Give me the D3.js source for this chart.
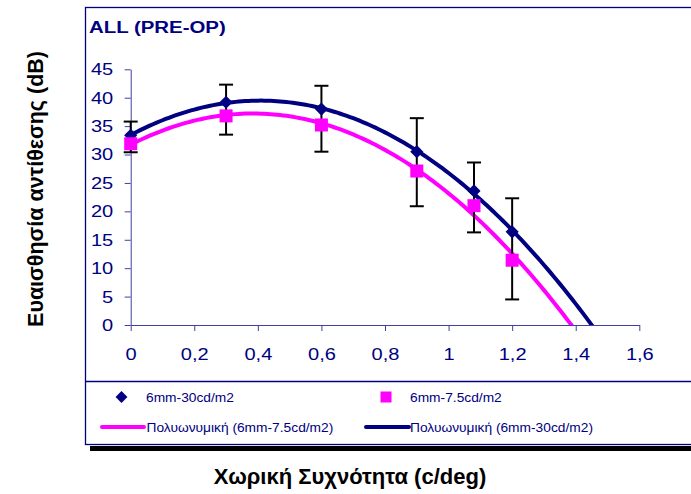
<!DOCTYPE html>
<html>
<head>
<meta charset="utf-8">
<script src="https://cdn.jsdelivr.net/npm/d3@7"></script>
<style>
	html, body { margin: 0; padding: 0; background: #fff; }
	svg { display: block; font-family: Arial, "Liberation Sans", sans-serif; }
</style>
</head>
<body>
<svg id="chart" width="691" height="494"></svg>
<script>
// data
var freqs = [0, 0.3, 0.6, 0.9, 1.08, 1.2];
var bright = [33.4, 39.2, 38.0, 30.5, 23.6, 16.4];   // 6mm-30cd/m2
var dim = [31.9, 36.8, 35.2, 27.1, 21.0, 11.4];      // 6mm-7.5cd/m2
var errHigh = [35.8, 42.3, 42.1, 36.4, 28.6, 22.3];
var errLow = [30.4, 33.5, 30.5, 20.9, 16.3, 4.5];
var yTicks = [0, 5, 10, 15, 20, 25, 30, 35, 40, 45];
var xTicks = [0, 0.2, 0.4, 0.6, 0.8, 1, 1.2, 1.4, 1.6];

(function () {
	'use strict';
	var svg = d3.select('#chart'),
		navy = '#000080',
		pink = '#ff00ff',
		axisCol = '#4040a0',
		wide = 1.18,   // the original text is drawn a bit stretched sideways
		x, y, plot, leg, fitLine, polyFit, fitPoints, comma, styleAxis;

	x = d3.scaleLinear().domain([0, 1.6]).range([130.7, 639.3]);
	y = d3.scaleLinear().domain([0, 45]).range([325, 69.3]);
	comma = function (v) { return String(v).replace('.', ','); };

	// least squares polynomial (order 2), like the spreadsheet trendline
	polyFit = function (xs, ys) {
		var n = xs.length, s = [0, 0, 0, 0, 0], t = [0, 0, 0], i, k, m, a, det;
		for (i = 0; i < n; i++) {
			for (k = 0; k < 5; k++) { s[k] += Math.pow(xs[i], k); }
			for (k = 0; k < 3; k++) { t[k] += ys[i] * Math.pow(xs[i], k); }
		}
		m = [[s[0], s[1], s[2]], [s[1], s[2], s[3]], [s[2], s[3], s[4]]];
		det = function (q) {
			return q[0][0] * (q[1][1] * q[2][2] - q[1][2] * q[2][1]) -
				q[0][1] * (q[1][0] * q[2][2] - q[1][2] * q[2][0]) +
				q[0][2] * (q[1][0] * q[2][1] - q[1][1] * q[2][0]);
		};
		a = [0, 1, 2].map(function (c) {
			var q = m.map(function (row, r) {
				return row.map(function (v, j) { return j === c ? t[r] : v; });
			});
			return det(q) / det(m);
		});
		return function (v) { return a[0] + a[1] * v + a[2] * v * v; };
	};

	fitPoints = function (ys) {
		var f = polyFit(freqs, ys);
		return d3.range(0, 1.6001, 0.01).map(function (v) { return [v, f(v)]; });
	};

	styleAxis = function (g) {
		g.select('.domain').attr('stroke', axisCol);
		g.selectAll('.tick line').attr('stroke', axisCol);
		g.selectAll('text').attr('fill', navy).attr('font-size', 17)
			.attr('font-family', 'Arial, "Liberation Sans", sans-serif');
	};

	// outer frame with shadow
	svg.append('rect').attr('x', 90).attr('y', 446).attr('width', 610).attr('height', 5).attr('fill', '#000');
	svg.append('rect').attr('x', 85.5).attr('y', 7.5).attr('width', 620).attr('height', 437)
		.attr('fill', '#fff').attr('stroke', navy).attr('stroke-width', 1.3);
	svg.append('line').attr('x1', 85.5).attr('x2', 700).attr('y1', 381.5).attr('y2', 381.5)
		.attr('stroke', navy).attr('stroke-width', 1.3);

	svg.append('text').attr('transform', 'translate(89,32.5) scale(1.2,1)').attr('fill', navy)
		.attr('font-size', 17).attr('font-weight', 'bold').text('ALL (PRE-OP)');

	// axes
	plot = svg.append('g');
	plot.append('g').attr('transform', 'translate(' + x(0) + ',0)')
		.call(d3.axisLeft(y).tickValues(yTicks).tickSize(6).tickSizeOuter(0))
		.call(styleAxis)
		.call(function (g) {
			g.selectAll('.tick text').attr('x', -17.5 / wide).attr('transform', 'scale(' + wide + ',1)');
		});
	plot.append('g').attr('transform', 'translate(0,' + y(0) + ')')
		.call(d3.axisBottom(x).tickValues(xTicks).tickFormat(comma).tickSize(6).tickSizeOuter(0).tickPadding(17))
		.call(styleAxis)
		.call(function (g) {
			g.selectAll('.tick text').attr('transform', 'scale(' + wide + ',1)');
		});

	// trendlines clipped to the plot area
	svg.append('clipPath').attr('id', 'plotclip').append('rect')
		.attr('x', x(0)).attr('y', y(45) - 20).attr('width', x(1.6) - x(0)).attr('height', y(0) - y(45) + 20);
	fitLine = d3.line().x(function (d) { return x(d[0]); }).y(function (d) { return y(d[1]); });
	plot.append('path').attr('d', fitLine(fitPoints(dim))).attr('clip-path', 'url(#plotclip)')
		.attr('fill', 'none').attr('stroke', pink).attr('stroke-width', 4);
	plot.append('path').attr('d', fitLine(fitPoints(bright))).attr('clip-path', 'url(#plotclip)')
		.attr('fill', 'none').attr('stroke', navy).attr('stroke-width', 4);

	// error bars
	plot.selectAll('g.err').data(freqs).enter().append('g').attr('class', 'err')
		.each(function (d, i) {
			var g = d3.select(this), cx = x(d);
			g.append('line').attr('x1', cx).attr('x2', cx).attr('y1', y(errHigh[i])).attr('y2', y(errLow[i]));
			g.append('line').attr('x1', cx - 7).attr('x2', cx + 7).attr('y1', y(errHigh[i])).attr('y2', y(errHigh[i]));
			g.append('line').attr('x1', cx - 7).attr('x2', cx + 7).attr('y1', y(errLow[i])).attr('y2', y(errLow[i]));
		})
		.selectAll('line').attr('stroke', '#000').attr('stroke-width', 2);

	// markers
	plot.selectAll('path.diamond').data(freqs).enter().append('path').attr('class', 'diamond')
		.attr('d', d3.symbol(d3.symbolDiamond2, 110))
		.attr('transform', function (d, i) { return 'translate(' + x(d) + ',' + y(bright[i]) + ')'; })
		.attr('fill', navy);
	plot.selectAll('rect.sq').data(freqs).enter().append('rect').attr('class', 'sq')
		.attr('x', function (d) { return x(d) - 6.5; })
		.attr('y', function (d, i) { return y(dim[i]) - 6.5; })
		.attr('width', 13).attr('height', 13).attr('fill', pink);

	// legend
	leg = svg.append('g').attr('font-size', 13).attr('fill', navy);
	leg.append('path').attr('d', d3.symbol(d3.symbolDiamond2, 90))
		.attr('transform', 'translate(121.5,397)').attr('fill', navy);
	leg.append('text').attr('transform', 'translate(146,401.7) scale(1.06,1)').text('6mm-30cd/m2');
	leg.append('rect').attr('x', 380.5).attr('y', 391.5).attr('width', 11).attr('height', 11).attr('fill', pink);
	leg.append('text').attr('transform', 'translate(410,401.7) scale(1.06,1)').text('6mm-7.5cd/m2');
	leg.append('line').attr('x1', 102).attr('x2', 144).attr('y1', 427).attr('y2', 427)
		.attr('stroke', pink).attr('stroke-width', 4).attr('stroke-linecap', 'round');
	leg.append('text').attr('transform', 'translate(146.5,432) scale(1.06,1)').text('Πολυωνυμική (6mm-7.5cd/m2)');
	leg.append('line').attr('x1', 366).attr('x2', 409).attr('y1', 427).attr('y2', 427)
		.attr('stroke', navy).attr('stroke-width', 4).attr('stroke-linecap', 'round');
	leg.append('text').attr('transform', 'translate(410,432) scale(1.06,1)').text('Πολυωνυμική (6mm-30cd/m2)');

	// axis titles
	svg.append('text').attr('x', 350).attr('y', 484).attr('text-anchor', 'middle')
		.attr('font-size', 22).attr('font-weight', 'bold').attr('fill', '#000')
		.text('Χωρική Συχνότητα (c/deg)');
	svg.append('text').attr('transform', 'translate(43,189) rotate(-90)').attr('text-anchor', 'middle')
		.attr('font-size', 21.5).attr('font-weight', 'bold').attr('fill', '#000')
		.text('Ευαισθησία αντίθεσης (dB)');
}());
</script>
</body>
</html>
